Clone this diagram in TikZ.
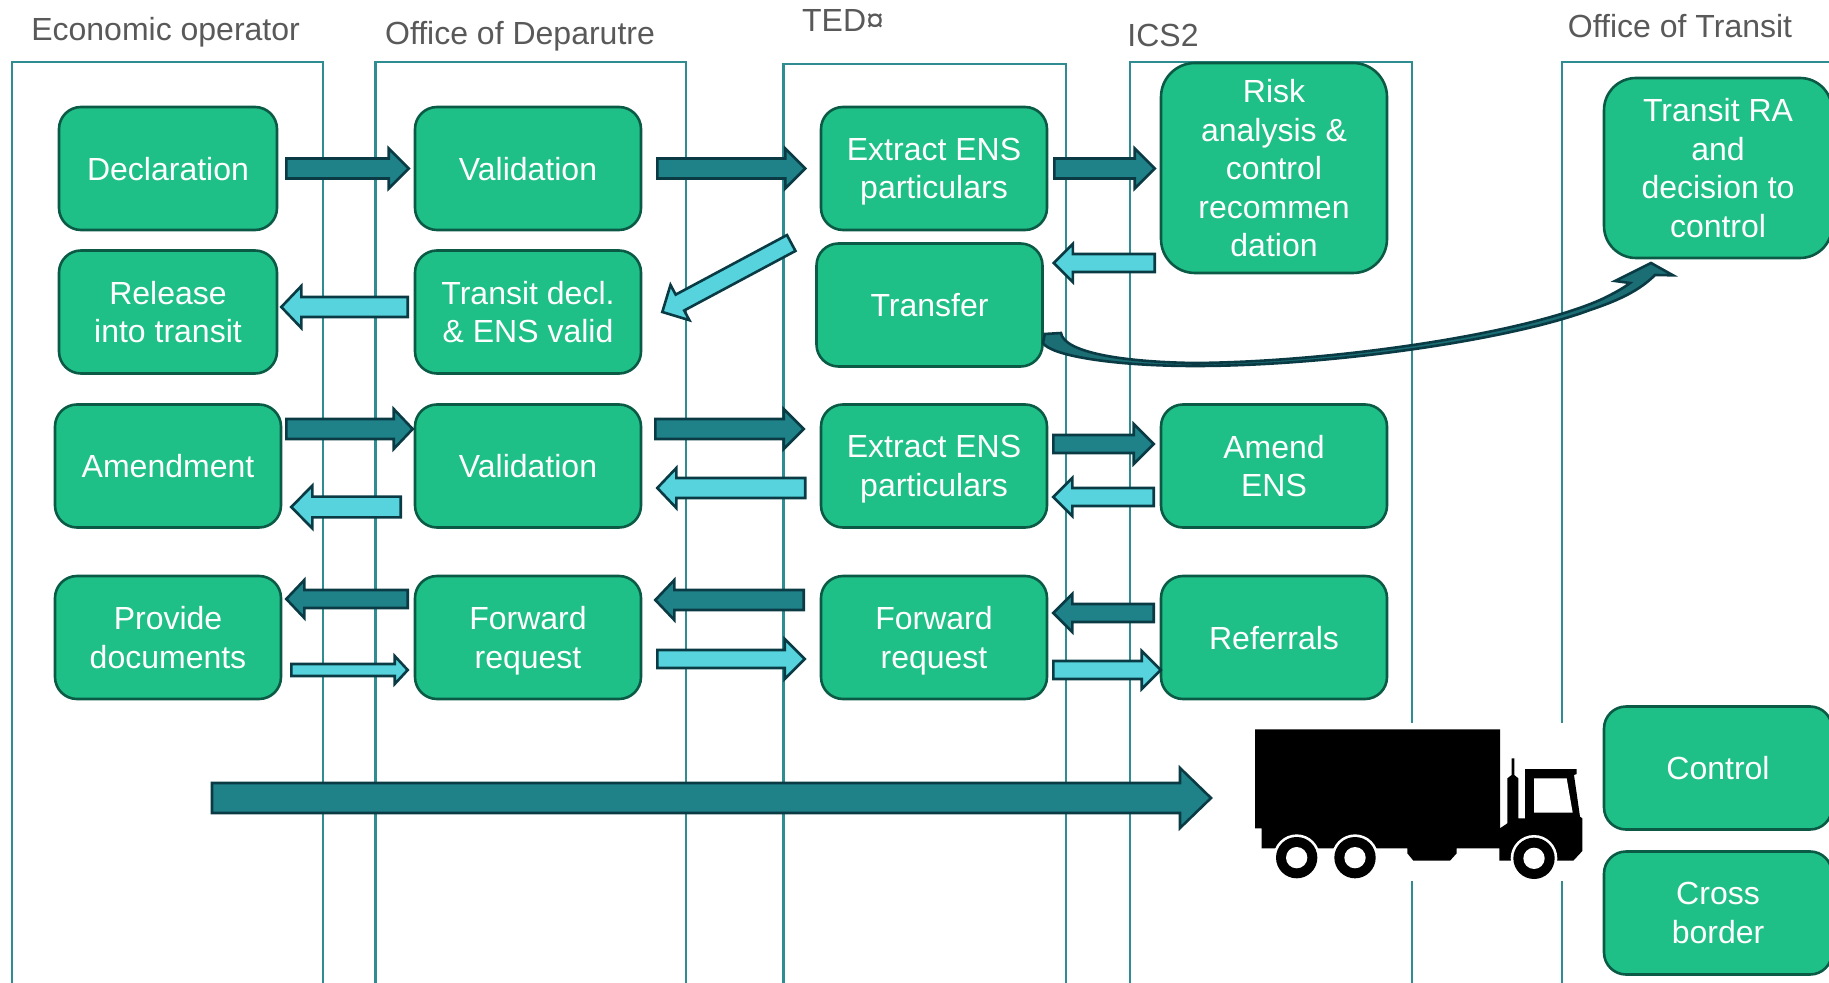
\documentclass[tikz,border=0pt]{standalone}
\usepackage{fontspec}
\setmainfont{Liberation Sans}
\usetikzlibrary{calc}

\definecolor{boxgreen}{HTML}{1FC087}
\definecolor{boxline}{HTML}{0B5A45}
\definecolor{darkteal}{HTML}{1F8288}
\definecolor{lightteal}{HTML}{56D3DC}
\definecolor{arrowline}{HTML}{0A3B45}
\definecolor{laneline}{HTML}{2F8C90}
\definecolor{titlegrey}{HTML}{595959}

\tikzset{
    stepbox/.style={draw=boxline, line width=1.3pt, fill=boxgreen, rounded corners=11pt, text=white, align=center, inner sep=0pt, minimum width=113pt, minimum height=61.5pt, text depth=-1pt, font=\fontsize{16}{19.25}\selectfont},
    lane/.style={draw=laneline, line width=1.2pt},
    lanetitle/.style={anchor=base, text=titlegrey, inner sep=0pt, font=\fontsize{16}{19.25}\selectfont},
    darkarrow/.style={draw=arrowline, fill=darkteal, line width=1.3pt, line join=miter},
    lightarrow/.style={draw=arrowline, fill=lightteal, line width=1.3pt, line join=miter}
}

% style, tail, tip, half shaft, half head, head length
\newcommand{\blockarrow}[6]{%
    \coordinate (st) at #2;
    \coordinate (en) at #3;
    \coordinate (hd) at ($(en)!#6!(st)$);
    \draw [#1] (st) -- ($(st)!#4!90:(en)$) -- ($(hd)!#4!90:(en)$) -- ($(hd)!#5!90:(en)$) -- (en)
        -- ($(hd)!#5!-90:(en)$) -- ($(hd)!#4!-90:(en)$) -- ($(st)!#4!-90:(en)$) -- cycle;
}

\begin{document}
\begin{tikzpicture}[x=0.5pt, y=-0.5pt]
    \useasboundingbox (0,0) rectangle (1829,983);
    \clip (0,0) rectangle (1829,983);

    % lanes
    \draw [lane] (12,1000) |- (323,62) -- (323,1000);
    \draw [lane] (375.5,1000) |- (686,62) -- (686,1000);
    \draw [lane] (783.5,1000) |- (1066,64) -- (1066,1000);
    \draw [lane] (1130,1000) |- (1412,62) -- (1412,1000);
    \draw [lane] (1562,1000) |- (1850,62);

    \node [lanetitle] (teco) at (165.6,41) {Economic operator};
    \node [lanetitle] (tdep) at (520,45) {Office of Deparutre};
    \node [lanetitle] (tted) at (843,32) {TED¤};
    \node [lanetitle] (tics) at (1163,47) {ICS2};
    \node [lanetitle] (ttra) at (1680,37.5) {Office of Transit};

    % first block
    \node [stepbox, minimum width=109pt] (decl) at (168,168.5) {Declaration};
    \node [stepbox] (val1) at (528,168.5) {Validation};
    \node [stepbox] (ext1) at (934,168.5) {Extract ENS\\particulars};
    \node [stepbox, minimum height=105pt, rounded corners=17pt] (risk) at (1274,168) {Risk\\analysis \&\\control\\recommen\\dation};
    \node [stepbox, minimum width=114pt, minimum height=90pt, rounded corners=16pt] (tra) at (1718,168) {Transit RA\\and\\decision to\\control};
    \node [stepbox, minimum width=109pt] (rele) at (168,312) {Release\\into transit};
    \node [stepbox] (tdec) at (528,312) {Transit decl.\\\& ENS valid};
    \node [stepbox] (tran) at (929.5,305) {Transfer};

    % amendment
    \node [stepbox] (amen) at (168,466) {Amendment};
    \node [stepbox] (val2) at (528,466) {Validation};
    \node [stepbox] (ext2) at (934,466) {Extract ENS\\particulars};
    \node [stepbox] (aens) at (1274,466) {Amend\\ENS};

    % referrals
    \node [stepbox] (prov) at (168,637.5) {Provide\\documents};
    \node [stepbox] (for1) at (528,637.5) {Forward\\request};
    \node [stepbox] (for2) at (934,637.5) {Forward\\request};
    \node [stepbox] (refe) at (1274,637.5) {Referrals};

    \node [stepbox, minimum width=114pt] (cont) at (1718,768) {Control};
    \node [stepbox, minimum width=114pt] (cros) at (1718,913) {Cross\\border};

    % arrows of the first block
    \blockarrow{darkarrow}{($(decl.east)+(8,0)$)}{($(val1.west)+(-5,0)$)}{5pt}{10pt}{10pt}
    \blockarrow{darkarrow}{($(val1.east)+(15,0)$)}{($(ext1.west)+(-14.5,0)$)}{5pt}{10pt}{10pt}
    \blockarrow{darkarrow}{($(ext1.east)+(6,0)$)}{($(risk.west)+(-5,0.5)$)}{5pt}{10pt}{10pt}
    \blockarrow{lightarrow}{($(risk.west)+(-5,95)$)}{($(tran.east)+(10,-42)$)}{4.5pt}{9.5pt}{9.5pt}
    \blockarrow{lightarrow}{($(tran.west)+(-24,-62)$)}{($(tdec.east)+(20,0)$)}{4.5pt}{10pt}{10pt}
    \blockarrow{lightarrow}{($(tdec.west)+(-6,-5)$)}{($(rele.east)+(3,-5)$)}{5pt}{10.5pt}{10pt}

    % arrows of the amendment
    \blockarrow{darkarrow}{($(amen.east)+(4,-37)$)}{($(val2.west)+(-1,-37)$)}{5pt}{10pt}{9.5pt}
    \blockarrow{lightarrow}{($(val2.west)+(-13,41)$)}{($(amen.east)+(9,41)$)}{5.2pt}{10.7pt}{10.5pt}
    \blockarrow{darkarrow}{($(val2.east)+(13,-37)$)}{($(ext2.west)+(-16,-37)$)}{5pt}{10pt}{10pt}
    \blockarrow{lightarrow}{($(ext2.west)+(-14.5,22)$)}{($(val2.east)+(15,22)$)}{5pt}{10pt}{9.5pt}
    \blockarrow{darkarrow}{($(ext2.east)+(5,-22)$)}{($(aens.west)+(-6,-22)$)}{4.5pt}{10pt}{10pt}
    \blockarrow{lightarrow}{($(aens.west)+(-6,31)$)}{($(ext2.east)+(5,31)$)}{4.5pt}{9.5pt}{9.5pt}

    % arrows of the referrals
    \blockarrow{darkarrow}{($(for1.west)+(-6,-38.5)$)}{($(prov.east)+(4,-38.5)$)}{4.5pt}{9.5pt}{9pt}
    \blockarrow{lightarrow}{($(prov.east)+(9,32.5)$)}{($(for1.west)+(-6,32.5)$)}{3pt}{7pt}{6.5pt}
    \blockarrow{darkarrow}{($(for2.west)+(-16,-37.5)$)}{($(for1.east)+(13,-37.5)$)}{5pt}{10pt}{9.5pt}
    \blockarrow{lightarrow}{($(for1.east)+(15,21.5)$)}{($(for2.west)+(-15,21.5)$)}{4.5pt}{10pt}{10pt}
    \blockarrow{darkarrow}{($(refe.west)+(-6,-24.5)$)}{($(for2.east)+(5,-24.5)$)}{4.5pt}{9.5pt}{9.5pt}
    \blockarrow{lightarrow}{($(for2.east)+(5,32.5)$)}{($(refe.west)+(1,32.5)$)}{4.5pt}{9.5pt}{9.5pt}

    % transfer to transit
    \coordinate (cvtail) at ($(tran.east)+(1,29)$);
    \coordinate (cvtip) at ($(tra.south)+(-45,16)$);
    \draw [darkarrow, fill=darkteal!85!black] (cvtail) -- (1061,333)
        .. controls (1064,352) and (1120,362) .. (1195,363)
        .. controls (1330,362) and (1520,335) .. (1600,300)
        .. controls (1615,293) and (1625,287) .. (1630,283)
        -- (1615,281) -- (1651,263) -- (cvtip) -- (1655,275)
        .. controls (1640,290) and (1620,300) .. (1590,310)
        .. controls (1510,340) and (1330,366) .. (1195,366)
        .. controls (1110,366) and (1050,355) .. (1043,343) -- cycle;

    % truck
    \fill [white] (1250,723) rectangle (1572,881);
    \coordinate (bigtail) at (212,798);
    \coordinate (bigtip) at (1211,798);
    \blockarrow{darkarrow}{(bigtail)}{(bigtip)}{7.5pt}{15pt}{15.5pt}
    \begin{scope}[shift={(1200,690)}, scale=1/3]
        \fill (165,118) -- (900,118) -- (900,415) -- (922,400) -- (922,265) -- (935,255) -- (935,205)
            -- (943,205) -- (943,255) -- (955,265) -- (955,385) -- (975,385) -- (975,237) -- (1130,237)
            -- (1130,252) -- (1122,255) -- (1140,380) -- (1147,385) -- (1147,483) -- (1120,512)
            -- (898,512) -- (898,475) -- (770,475) -- (770,490) -- (750,512) -- (640,512) -- (622,490)
            -- (622,475) -- (185,475) -- (185,415) -- (165,415) -- cycle;
        \fill [white] (1002,265) -- (1100,265) -- (1118,368) -- (1002,368) -- cycle;
        \foreach \wx/\wy in {290/503, 465/503, 1002/505} {
            \fill [white] (\wx,\wy) circle (70);
            \fill (\wx,\wy) circle (62);
            \fill [white] (\wx,\wy) circle (32);
        }
    \end{scope}
\end{tikzpicture}
\end{document}
